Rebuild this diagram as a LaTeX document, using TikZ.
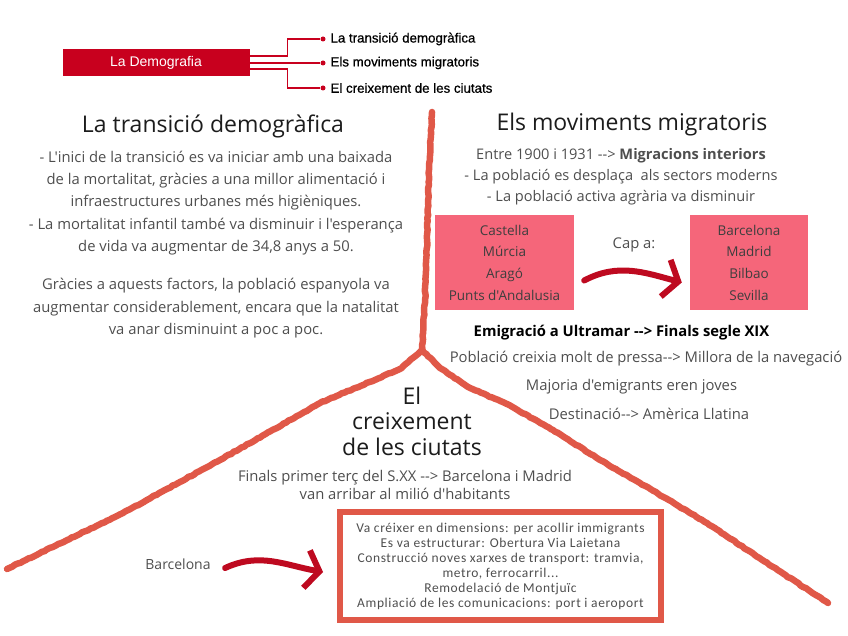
\documentclass[tikz,border=0pt]{standalone}
\usepackage{fontspec}
\setmainfont{Open Sans}[Ligatures=TeXOff]
\newfontfamily\mapfont{Liberation Sans}
\newfontfamily\mapfontheavy{Liberation Sans}[FakeBold=0.7]
\newfontfamily\listfont{Carlito}[LetterSpace=4.5]
\usetikzlibrary{arrows.meta,decorations.pathmorphing}

\definecolor{demored}{RGB}{200,0,30}
\definecolor{crackred}{RGB}{224,88,72}
\definecolor{boxpink}{RGB}{245,102,122}
\definecolor{brushred}{RGB}{190,10,32}
\definecolor{bodygray}{RGB}{78,78,78}
\definecolor{titleblack}{RGB}{28,28,28}

\tikzset{
  crack/.style={draw=crackred, line width=6.5pt, line cap=round, line join=round,
    decorate, decoration={random steps, segment length=3pt, amplitude=0.45pt}},
  maplink/.style={draw=demored, line width=1.5pt},
  mapdot/.style={circle, fill=demored, inner sep=0pt, minimum size=5pt},
  maplabel/.style={anchor=west, text=black, font=\mapfontheavy\fontsize{13.3}{15}\selectfont},
  sectitle/.style={align=center, text=titleblack, font=\fontsize{23}{25.5}\selectfont},
  bodytext/.style={align=center, text=bodygray, font=\fontsize{14.8}{21.5}\selectfont},
  citybox/.style={fill=boxpink, inner sep=0pt, minimum height=95pt, align=center,
    text=titleblack!85, font=\fontsize{13.5}{21.7}\selectfont},
  reformbox/.style={draw=crackred, line width=6pt, minimum width=321pt, minimum height=108pt,
    align=center, text=bodygray, font=\listfont\fontsize{13.5}{15}\selectfont},
  brush/.style={draw=brushred, line width=6pt, line cap=round,
    -{Straight Barb[length=13pt,width=38pt]}},
}

\begin{document}
\begin{tikzpicture}[x=1pt,y=1pt]
\useasboundingbox (0,0) rectangle (848,-636);
\pgfmathsetseed{7}

% overview at the top
\node[fill=demored, minimum width=187pt, minimum height=27pt, inner sep=0pt, text=white,
  font=\mapfont\fontsize{14}{16}\selectfont] (demo) at (156,-63) {La Demografia};
\node[mapdot] (dotA) at (323,-39) {};
\node[mapdot] (dotB) at (323,-63) {};
\node[mapdot] (dotC) at (323,-88) {};
\node[maplabel] (topA) at (327,-39) {La transició demogràfica};
\node[maplabel] (topB) at (327,-63) {Els moviments migratoris};
\node[maplabel] (topC) at (327,-88) {El creixement de les ciutats};
\draw[maplink] ([yshift=7pt]demo.east) -- ++(38,0) |- (dotA);
\draw[maplink] (demo.east) -- (dotB);
\draw[maplink] ([yshift=-6pt]demo.east) -- ++(38,0) |- (dotC);

% cracks
\draw[crack] (432,-112) -- (429,-170) -- (427,-240) -- (425,-300) -- (422,-350);
\draw[crack] (422,-350) -- (400,-369) -- (320,-403) -- (220,-460) -- (123,-513) -- (7,-569);
\draw[crack] (422,-350) -- (440,-368) -- (470,-388) -- (507,-404) -- (553,-430)
  -- (600,-460) -- (640,-483) -- (707,-523) -- (773,-567) -- (828,-603);

% la transicio demografica
\node[sectitle] (tdtitle) at (213,-126) {La transició demogràfica};
\node[bodytext, font=\fontsize{14.8}{22.2}\selectfont] (tdbody) at (216,-244.5)
  {- L'inici de la transició es va iniciar amb una baixada\\
  de la mortalitat, gràcies a una millor alimentació i\\
  infraestructures urbanes més higièniques.\\
  - La mortalitat infantil també va disminuir i l'esperança\\
  de vida va augmentar de 34,8 anys a 50.\\[16.5pt]
  Gràcies a aquests factors, la població espanyola va\\
  augmentar considerablement, encara que la natalitat\\
  va anar disminuint a poc a poc.};

% els moviments migratoris
\node[sectitle] (mmtitle) at (632,-125) {Els moviments migratoris};
\node[bodytext, font=\fontsize{14.6}{21}\selectfont] (mmbody) at (621,-177)
  {Entre 1900 i 1931 --> \textbf{Migracions interiors}\\
  - La població es desplaça\ \ als sectors moderns\\
  - La població activa agrària va disminuir};
\node[citybox, minimum width=139pt] (fromcities) at (504.5,-262.5) {Castella\\Múrcia\\Aragó\\Punts d'Andalusia};
\node[citybox, minimum width=118pt] (tocities) at (749,-262.5) {Barcelona\\Madrid\\Bilbao\\Sevilla};
\node[bodytext] (capa) at (634,-245) {Cap a:};
\draw[brush] ([xshift=10pt,yshift=-18pt]fromcities.east) to[out=28,in=165]
  ([xshift=-8pt,yshift=-20pt]tocities.west);
\node[bodytext, text=black] (ultramar) at (621.5,-333) {\bfseries Emigració a Ultramar --> Finals segle XIX};
\node[bodytext] (fastgrowth) at (646,-359) {Població creixia molt de pressa--> Millora de la navegació};
\node[bodytext] (youth) at (631.5,-387) {Majoria d'emigrants eren joves};
\node[bodytext] (destiny) at (649,-414) {Destinació--> Amèrica Llatina};

% el creixement de les ciutats
\node[sectitle] (cttitle) at (412,-421) {El\\creixement\\de les ciutats};
\node[bodytext, font=\fontsize{14.8}{18}\selectfont] (million) at (405,-485)
  {Finals primer terç del S.XX --> Barcelona i Madrid\\van arribar al milió d'habitants};
\node[reformbox] (reforms) at (500.5,-566) {Va créixer en dimensions: per acollir immigrants\\
  Es va estructurar: Obertura Via Laietana\\
  Construcció noves xarxes de transport: tramvia,\\
  metro, ferrocarril...\\
  Remodelació de Montjuïc\\
  Ampliació de les comunicacions: port i aeroport};
\node[bodytext, font=\fontsize{14}{16}\selectfont] (bcn) at (178,-564) {Barcelona};
\draw[brush] ([xshift=11pt,yshift=-4pt]bcn.east) to[out=25,in=170]
  ([xshift=-14pt,yshift=-6pt]reforms.west);
\end{tikzpicture}
\end{document}
